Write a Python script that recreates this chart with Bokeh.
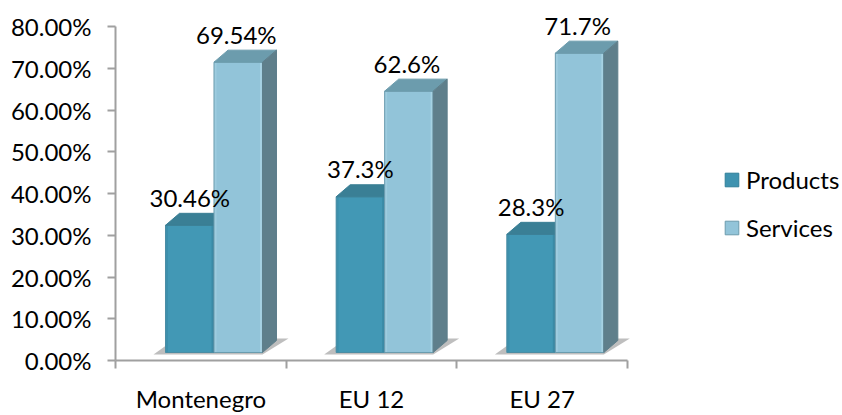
from bokeh.plotting import figure
from bokeh.models import Range1d, FixedTicker, Legend, LegendItem
from bokeh.embed import file_html
from bokeh.resources import INLINE
from bokeh.core.properties import value

categories = ["Montenegro", "EU 12", "EU 27"]
products = [30.46, 37.3, 28.3]
services = [69.54, 62.6, 71.7]
product_labels = ["30.46%", "37.3%", "28.3%"]
service_labels = ["69.54%", "62.6%", "71.7%"]
y_ticks = [0, 10, 20, 30, 40, 50, 60, 70, 80]

FONT = "Lato"
FS = "24px"
TEXT = "#000000"
AXIS = "#A0A0A0"
PX_X = 170.67   # pixels per category
PX_Y = 4.17     # pixels per percent
dx, dy = 14 / PX_X, 12 / PX_Y   # 3-D depth
lift = 8 / PX_Y                 # bars stand above the axis line
bw = 48.5 / PX_X
g0 = -0.5 + 50 / PX_X           # left edge of group relative to category
strip = 2.5 / PX_X

W, H = 842, 415
p = figure(width=W, height=H, output_backend="svg", toolbar_location=None,
           x_range=Range1d(-0.5, 2.5 + 215 / PX_X), y_range=Range1d(0, 80 + 16 / PX_Y),
           min_border_left=115, min_border_right=0, min_border_top=10, min_border_bottom=55,
           outline_line_color=None, background_fill_color=None, border_fill_color=None)
p.grid.visible = False

def cuboid(x0, v, front, edge, top, side, outline):
    x1 = x0 + bw
    y0, y1 = lift, lift + v
    p.patch([x0, x1, x1, x0], [y0, y0, y1, y1], fill_color=front, line_color=None)
    p.patch([x1 - strip, x1, x1, x1 - strip], [y0, y0, y1, y1], fill_color=edge, line_color=None)
    p.patch([x0, x0 + strip, x0 + strip, x0], [y0, y0, y1, y1], fill_color=edge, fill_alpha=0.6, line_color=None)
    p.patch([x0, x1, x1, x0], [y0, y0, y1, y1], fill_alpha=0, line_color=outline, line_width=1)
    p.patch([x0, x1, x1 + dx, x0 + dx], [y1, y1, y1 + dy, y1 + dy], fill_color=top, line_color=top)
    p.patch([x1, x1 + dx, x1 + dx, x1], [y0, y0 + dy, y1 + dy, y1], fill_color=side, line_color=side)

# floor shadows, then bars
for i in range(3):
    l = i + g0
    xs = [l - 12 / PX_X, l + 2 * bw, l + 2 * bw + 26 / PX_X, l + 2 * bw + 14 / PX_X, l + 2 / PX_X]
    ys = [lift - 2 / PX_Y, lift - 2 / PX_Y, lift + 14 / PX_Y, lift + 14 / PX_Y, lift + 8 / PX_Y]
    p.patch(xs, ys, fill_color="#a8a8a8", fill_alpha=0.75, line_color=None)

for i in range(3):
    l = i + g0
    cuboid(l, products[i], "#4298B5", "#3A8AA6", "#3A7F95", "#3A7F95", "#4A8CA3")
    cuboid(l + bw, services[i], "#92C4D9", "#A6D2E3", "#6C9CAD", "#5F7F8B", "#6A9BAE")

r_prod = p.quad(left=[0], right=[0], bottom=[0], top=[0], fill_color="#3F93B0", line_color="#2F7F99")
r_serv = p.quad(left=[0], right=[0], bottom=[0], top=[0], fill_color="#92C4D9", line_color="#6C9CAD")

xs_p = [i + g0 + bw / 2 for i in range(3)]
xs_s = [i + g0 + bw * 1.5 - 2 / PX_X for i in range(3)]
p.text(xs_p, [lift + v for v in products], text=product_labels, y_offset=-28, text_align="center",
       text_baseline="middle", text_font=value(FONT), text_font_size=FS, text_color=TEXT)
p.text(xs_s, [lift + v for v in services], text=service_labels, y_offset=-28, text_align="center",
       text_baseline="middle", text_font=value(FONT), text_font_size=FS, text_color=TEXT)

ya = p.yaxis[0]
ya.ticker = FixedTicker(ticks=y_ticks)
ya.major_label_overrides = {t: f"{t:.2f}%" for t in y_ticks}
ya.bounds = (0, 80)
ya.axis_line_color = AXIS; ya.axis_line_width = 2
ya.major_tick_line_color = AXIS; ya.major_tick_line_width = 2
ya.major_tick_in = 0; ya.major_tick_out = 8
ya.minor_tick_line_color = None
ya.major_label_standoff = 16
ya.major_label_text_font = FONT; ya.major_label_text_font_size = FS
ya.major_label_text_color = TEXT

xa = p.xaxis[0]
xa.ticker = FixedTicker(ticks=[0, 1, 2], minor_ticks=[-0.5, 0.5, 1.5, 2.5])
xa.major_label_overrides = {i: c for i, c in enumerate(categories)}
xa.bounds = (-0.5, 2.5)
xa.axis_line_color = AXIS; xa.axis_line_width = 2
xa.major_tick_line_color = None
xa.minor_tick_line_color = AXIS; xa.minor_tick_line_width = 2
xa.minor_tick_in = 0; xa.minor_tick_out = 8
xa.major_label_standoff = 15
xa.major_label_text_font = FONT; xa.major_label_text_font_size = FS
xa.major_label_text_color = TEXT

legend = Legend(items=[LegendItem(label="Products", renderers=[r_prod]),
                       LegendItem(label="Services", renderers=[r_serv])],
                location=(608, 118), orientation="vertical", background_fill_alpha=0,
                border_line_color=None, glyph_width=17, glyph_height=17, label_standoff=6,
                spacing=19, padding=0, margin=0,
                label_text_font=FONT, label_text_font_size=FS, label_text_color=TEXT)
p.add_layout(legend)

open("out.html", "w").write(file_html(p, INLINE))
